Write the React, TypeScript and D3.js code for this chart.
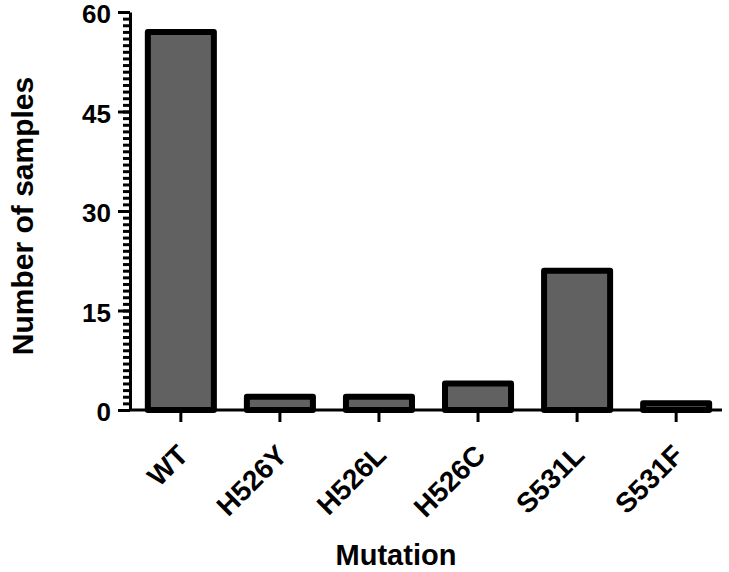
import * as d3 from "d3";
import React from "react";

// bar chart: number of samples per rpoB mutation
const categories = ["WT", "H526Y", "H526L", "H526C", "S531L", "S531F"];
const sampleCounts = [57, 2, 2, 4, 21, 1];
const yTicks = [0, 15, 30, 45, 60];

const App = () => {
  const ref = React.useRef<SVGSVGElement>(null);

  React.useEffect(() => {
    const width = 729,
      height = 572;
    const axisX = 130,
      baseY = 410;
    const svg = d3.select(ref.current);
    svg.selectAll("*").remove();
    svg.attr("width", width).attr("height", height);

    const font = "'Liberation Sans', Arial, sans-serif";

    const x = d3
      .scaleBand()
      .domain(categories)
      .range([axisX, 727])
      .paddingInner(1 / 3)
      .paddingOuter(0.18);

    const y = d3.scaleLinear().domain([0, 60]).range([baseY, 12]);

    // bars
    svg
      .append("g")
      .selectAll("rect")
      .data(categories)
      .enter()
      .append("rect")
      .attr("x", (d) => x(d)!)
      .attr("width", x.bandwidth())
      .attr("y", (d, i) => y(sampleCounts[i]))
      .attr("height", (d, i) => baseY - y(sampleCounts[i]))
      .attr("fill", "#616161")
      .attr("stroke", "#000")
      .attr("stroke-width", 6)
      .attr("stroke-linejoin", "round");

    // minor y ticks
    const minor = svg
      .append("g")
      .attr("transform", `translate(${axisX},0)`)
      .call(d3.axisLeft(y).tickValues(d3.range(0, 61, 1)).tickSize(7).tickFormat(() => ""));
    minor.select(".domain").remove();
    minor.selectAll("line").attr("stroke", "#000").attr("stroke-width", 3);

    // major y ticks
    const yAxis = svg
      .append("g")
      .attr("transform", `translate(${axisX},0)`)
      .call(d3.axisLeft(y).tickValues(yTicks).tickSize(12).tickSizeOuter(0).tickPadding(7));
    yAxis.select(".domain").attr("stroke", "#000").attr("stroke-width", 3);
    yAxis.selectAll("line").attr("stroke", "#000").attr("stroke-width", 3);
    yAxis
      .selectAll("text")
      .attr("dy", "0.42em")
      .attr("font-family", font)
      .attr("font-size", 26)
      .attr("font-weight", "bold")
      .attr("fill", "#000");

    // x axis
    const xAxis = svg
      .append("g")
      .attr("transform", `translate(0,${baseY})`)
      .call(d3.axisBottom(x).tickSize(12).tickSizeOuter(0).tickFormat(() => ""));
    xAxis.select(".domain").attr("d", `M${axisX},0H722`).attr("stroke", "#000").attr("stroke-width", 3);
    xAxis.selectAll("line").attr("stroke", "#000").attr("stroke-width", 3);

    // rotated category labels
    svg
      .append("g")
      .selectAll("text")
      .data(categories)
      .enter()
      .append("text")
      .attr("transform", (d) => `translate(${x(d)! + x.bandwidth() / 2 + 9},${baseY + 47}) rotate(-45)`)
      .attr("text-anchor", "end")
      .attr("font-family", font)
      .attr("font-size", 28)
      .attr("font-weight", "bold")
      .text((d) => d);

    // axis titles
    svg
      .append("text")
      .attr("x", 396)
      .attr("y", 565)
      .attr("text-anchor", "middle")
      .attr("font-family", font)
      .attr("font-size", 29)
      .attr("font-weight", "bold")
      .text("Mutation");

    svg
      .append("text")
      .attr("transform", `translate(33,216) rotate(-90)`)
      .attr("text-anchor", "middle")
      .attr("font-family", font)
      .attr("font-size", 30)
      .attr("font-weight", "bold")
      .text("Number of samples");
  }, []);

  return (
    <div style={{ position: "absolute", left: 0, top: 0, background: "#fff" }}>
      <svg ref={ref} style={{ display: "block" }} />
    </div>
  );
};

export default App;
